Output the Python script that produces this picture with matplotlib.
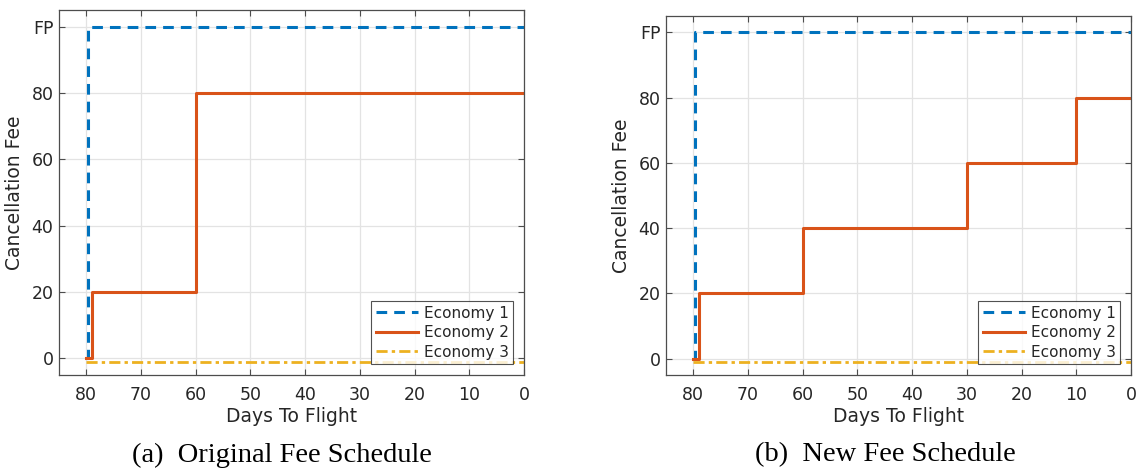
import numpy as np
import matplotlib.pyplot as plt

plt.rcParams['font.family'] = 'DejaVu Sans'

# fee schedules (days to flight -> cancellation fee, FP = full price = 100)
econ1_days = [80, 79.7, 0]
econ1_fee = [0, 100, 100]

econ2_days_orig = [80, 79, 60, 0]
econ2_fee_orig = [0, 20, 80, 80]

econ2_days_new = [80, 79, 60, 30, 10, 0]
econ2_fee_new = [0, 20, 40, 60, 80, 80]

econ3_days = [80, 0]
econ3_fee = [-1, -1]

yticks = [0, 20, 40, 60, 80, 100]
yticklabels = ['0', '20', '40', '60', '80', 'FP']
xticks = [80, 70, 60, 50, 40, 30, 20, 10, 0]

blue = '#0072BD'
red = '#D95319'
yellow = '#EDB120'

fig = plt.figure(figsize=(11.38, 4.72), dpi=100)
ax1 = fig.add_axes([59 / 1138, 97 / 472, 465 / 1138, 365 / 472])
ax2 = fig.add_axes([666 / 1138, 97 / 472, 465 / 1138, 359 / 472])


def draw_panel(ax, d2, f2):
    ax.step(econ1_days, econ1_fee, where='post', color=blue, lw=2.2,
            linestyle=(0, (3.5, 2.3)), label='Economy 1')
    ax.step(d2, f2, where='post', color=red, lw=2.2, label='Economy 2')
    ax.plot(econ3_days, econ3_fee, color=yellow, lw=2.0,
            linestyle=(0, (4, 1.5, 1.2, 1.5)), label='Economy 3')
    ax.set_xlim(85, 0)
    ax.set_ylim(-5, 105)
    ax.set_xticks(xticks)
    ax.set_yticks(yticks)
    ax.set_yticklabels(yticklabels)
    ax.grid(True, color='#e3e3e3', lw=0.9)
    ax.set_axisbelow(True)
    ax.tick_params(direction='in', length=4, width=0.8, color='#4d4d4d',
                   labelcolor='#262626', labelsize=12.5, top=True, right=True)
    ax.tick_params(axis='x', pad=8)
    ax.tick_params(axis='y', pad=4)
    for s in ax.spines.values():
        s.set_color('#4d4d4d')
        s.set_linewidth(0.9)
    ax.set_xlabel('Days To Flight', fontsize=13.5, color='#262626', labelpad=2)
    ax.set_ylabel('Cancellation Fee', fontsize=13.5, color='#262626', labelpad=5)
    leg = ax.legend(loc='lower right', fontsize=11, frameon=True, fancybox=False,
                    borderpad=0.3, labelspacing=0.3, handlelength=2.8,
                    handletextpad=0.35, borderaxespad=0.7)
    leg.get_frame().set_edgecolor('#262626')
    leg.get_frame().set_linewidth(0.8)
    for t in leg.get_texts():
        t.set_color('#262626')


draw_panel(ax1, econ2_days_orig, econ2_fee_orig)
draw_panel(ax2, econ2_days_new, econ2_fee_new)

fig.text(282 / 1138, 1 - 455 / 472, '(a)  Original Fee Schedule', ha='center',
         va='center', fontsize=20.5, family='Liberation Serif')
fig.text(885 / 1138, 1 - 455 / 472, '(b)  New Fee Schedule', ha='center',
         va='center', fontsize=20.5, family='Liberation Serif')

fig.savefig('out.png', dpi=100)
